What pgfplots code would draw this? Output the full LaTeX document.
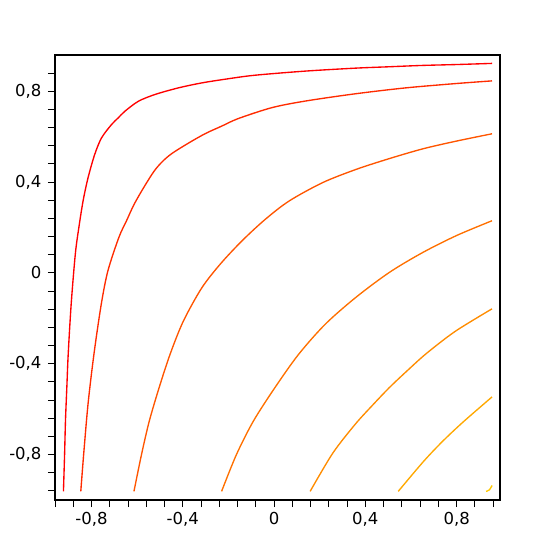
\documentclass[border=0pt]{standalone}
\usepackage{pgfplots}
\pgfplotsset{compat=1.18}
\usepackage{fontspec}
\setmainfont{DejaVu Sans}

\definecolor{cA}{HTML}{FF0000}
\definecolor{cB}{HTML}{FF2B00}
\definecolor{cC}{HTML}{FF5500}
\definecolor{cD}{HTML}{FF7000}
\definecolor{cE}{HTML}{FF8C00}
\definecolor{cF}{HTML}{FFA800}
\definecolor{cG}{HTML}{FFC800}

\begin{document}
\begin{tikzpicture}
\path[use as bounding box] (-55bp,-56bp) rectangle (501bp,500bp);
\begin{axis}[
  width=445bp, height=445bp, scale only axis,
  xmin=-0.96, xmax=0.99, ymin=-1.0, ymax=0.96,
  axis line style={line width=1.5bp, black},
  tick align=outside,
  xtick pos=bottom, ytick pos=left,
  major tick length=7bp, minor tick length=7bp,
  every tick/.style={black, line width=1bp},
  minor tick style={black, line width=1bp},
  xtick={-0.8,-0.4,0,0.4,0.8},
  ytick={-0.8,-0.4,0,0.4,0.8},
  xticklabels={{-0,8},{-0,4},0,{0,4},{0,8}},
  yticklabels={{-0,8},{-0,4},0,{0,4},{0,8}},
  minor xtick={-0.96,-0.88,-0.72,-0.64,-0.56,-0.48,-0.32,-0.24,-0.16,-0.08,0.08,0.16,0.24,0.32,0.48,0.56,0.64,0.72,0.88,0.96},
  minor ytick={-0.96,-0.88,-0.72,-0.64,-0.56,-0.48,-0.32,-0.24,-0.16,-0.08,0.08,0.16,0.24,0.32,0.48,0.56,0.64,0.72,0.88},
  tick label style={font=\fontsize{16.5bp}{19bp}\selectfont},
  yticklabel style={xshift=-3bp},
  xticklabel style={yshift=-2bp},
  every axis plot/.append style={line width=1.35bp, no markers, smooth, tension=0.5},
]
% contour levels, from the red outer one to the yellow corner one
\addplot[cA] coordinates {
 (-0.923,-0.962) (-0.918,-0.800) (-0.914,-0.648) (-0.908,-0.500) (-0.902,-0.355)
 (-0.889,-0.136) (-0.871,0.083) (-0.8555,0.200) (-0.837,0.317) (-0.815,0.420)
 (-0.786,0.522) (-0.756,0.595) (-0.712,0.654) (-0.683,0.683) (-0.654,0.712)
 (-0.595,0.756) (-0.522,0.786) (-0.420,0.815) (-0.317,0.837) (-0.200,0.8555)
 (-0.083,0.871) (0.136,0.889) (0.355,0.902) (0.500,0.908) (0.648,0.914)
 (0.800,0.918) (0.955,0.923)
};
\addplot[cB] coordinates {
 (-0.847,-0.962) (-0.834,-0.794) (-0.815,-0.575) (-0.789,-0.355) (-0.757,-0.136)
 (-0.728,0.010) (-0.680,0.157) (-0.647,0.229) (-0.614,0.301) (-0.572,0.375)
 (-0.526,0.448) (-0.490,0.490) (-0.448,0.526) (-0.375,0.572) (-0.301,0.614)
 (-0.229,0.647) (-0.157,0.680) (-0.010,0.728) (0.136,0.757) (0.355,0.789)
 (0.575,0.815) (0.794,0.834) (0.955,0.846)
};
\addplot[cC] coordinates {
 (-0.614,-0.962) (-0.581,-0.800) (-0.547,-0.653) (-0.504,-0.506) (-0.456,-0.359)
 (-0.398,-0.213) (-0.317,-0.066) (-0.235,0.040) (-0.141,0.141) (-0.040,0.235)
 (0.066,0.317) (0.213,0.398) (0.359,0.456) (0.506,0.504) (0.653,0.547)
 (0.800,0.581) (0.955,0.613)
};
\addplot[cD] coordinates {
 (-0.230,-0.962) (-0.165,-0.800) (-0.091,-0.653) (0.003,-0.506) (0.107,-0.359)
 (0.225,-0.225) (0.359,-0.107) (0.506,0.003) (0.653,0.091) (0.800,0.165)
 (0.955,0.230)
};
\addplot[cE] coordinates {
 (0.158,-0.962) (0.257,-0.794) (0.355,-0.667) (0.430,-0.584) (0.505,-0.505)
 (0.584,-0.430) (0.667,-0.355) (0.794,-0.257) (0.955,-0.158)
};
\addplot[cF] coordinates {
 (0.544,-0.962) (0.655,-0.830) (0.740,-0.740) (0.830,-0.655) (0.955,-0.546)
};
\addplot[cG] coordinates {
 (0.929,-0.962) (0.944,-0.955) (0.955,-0.936)
};
\end{axis}
\end{tikzpicture}
\end{document}
